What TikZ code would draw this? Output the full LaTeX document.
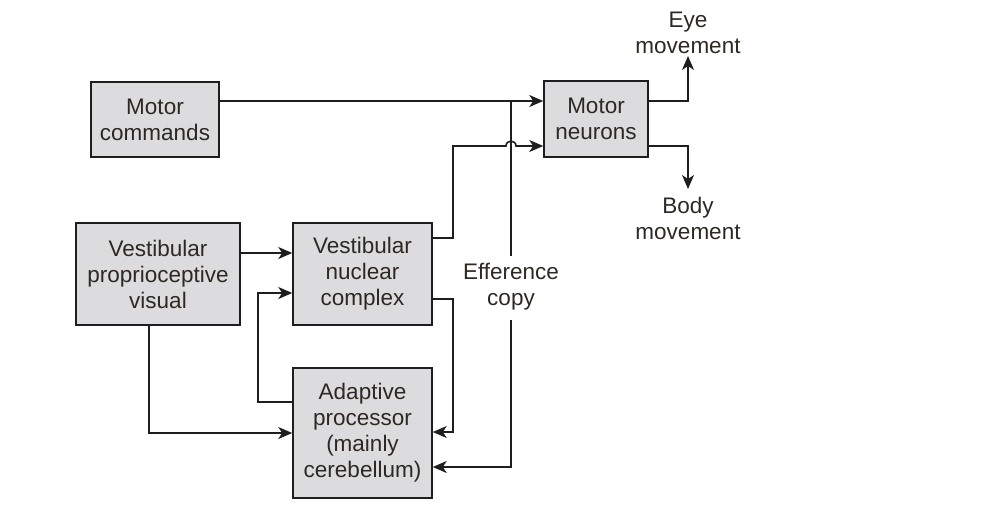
\documentclass[tikz,border=0pt]{standalone}
\usepackage{fontspec}
\setmainfont{Liberation Sans}
\usetikzlibrary{arrows.meta}
\definecolor{boxfill}{RGB}{220,220,222}
\definecolor{ink}{RGB}{30,30,30}
\definecolor{txt}{RGB}{45,40,35}
\begin{document}
\begin{tikzpicture}[x=1pt,y=-1pt,
  box/.style={draw=ink, fill=boxfill, line width=1.5pt, inner sep=0pt, align=center,
    font=\fontsize{22.5}{26}\selectfont, text=txt},
  conn/.style={draw=ink, line width=1.6pt, -{Stealth[length=14pt,width=12pt,inset=4pt]}},
  plain/.style={draw=ink, line width=1.6pt},
  lbl/.style={align=center, inner sep=0pt, font=\fontsize{22.5}{26}\selectfont, text=txt}]
\useasboundingbox (0,0) rectangle (981,504);
% boxes
\node[box, minimum width=128pt, minimum height=75pt] (mc) at (155,119.5) {Motor\\commands};
\node[box, minimum width=104pt, minimum height=76pt] (mn) at (596,119) {Motor\\neurons};
\node[box, minimum width=164pt, minimum height=102pt] (vpv) at (158,274) {Vestibular\\proprioceptive\\visual};
\node[box, minimum width=139pt, minimum height=102pt] (vnc) at (362.5,274) {Vestibular\\nuclear\\complex};
\node[box, minimum width=139pt, minimum height=130pt] (ap) at (362.5,433) {Adaptive\\processor\\(mainly\\cerebellum)};
% labels
\node[lbl] (eye) at (688,33) {Eye\\movement};
\node[lbl] (body) at (688,218) {Body\\movement};
\node[lbl] (ec) at (511,287) {Efference\\copy};
% helper coordinates
\coordinate (j1) at (511,101);
\coordinate (ecTop) at (511,256);
\coordinate (ecBot) at (511,320);
\coordinate (eyeEnd) at (688,56);
\coordinate (bodyEnd) at (688,189);
\coordinate (r1) at (453,238);
\coordinate (r2) at (453,146);
\coordinate (h1) at (506,146);
\coordinate (h2) at (516,146);
\coordinate (r3) at (453,299);
\coordinate (l1) at (258,402);
% connectors
\draw[conn] (mc.east |- j1) -- (mn.west |- j1);
\draw[plain] (j1) -- (ecTop);
\draw[conn] (ecBot) |- (ap.east |- 0,467);
\draw[conn] (vnc.east |- r1) -- (r1) -- (r2) -- (h1) .. controls (506,139.5) and (516,139.5) .. (h2) -- (mn.west |- r2);
\draw[conn] (mn.east |- j1) -| (eyeEnd);
\draw[conn] (mn.east |- r2) -| (bodyEnd);
\draw[conn] (vpv.east |- 0,253) -- (vnc.west |- 0,253);
\draw[conn] (ap.west |- l1) -- (l1) |- (vnc.west |- 0,293);
\draw[conn] (vpv.south -| 149,0) |- (ap.west |- 0,433);
\draw[conn] (vnc.east |- r3) -| (453,432) -- (ap.east |- 0,432);
\end{tikzpicture}
\end{document}
